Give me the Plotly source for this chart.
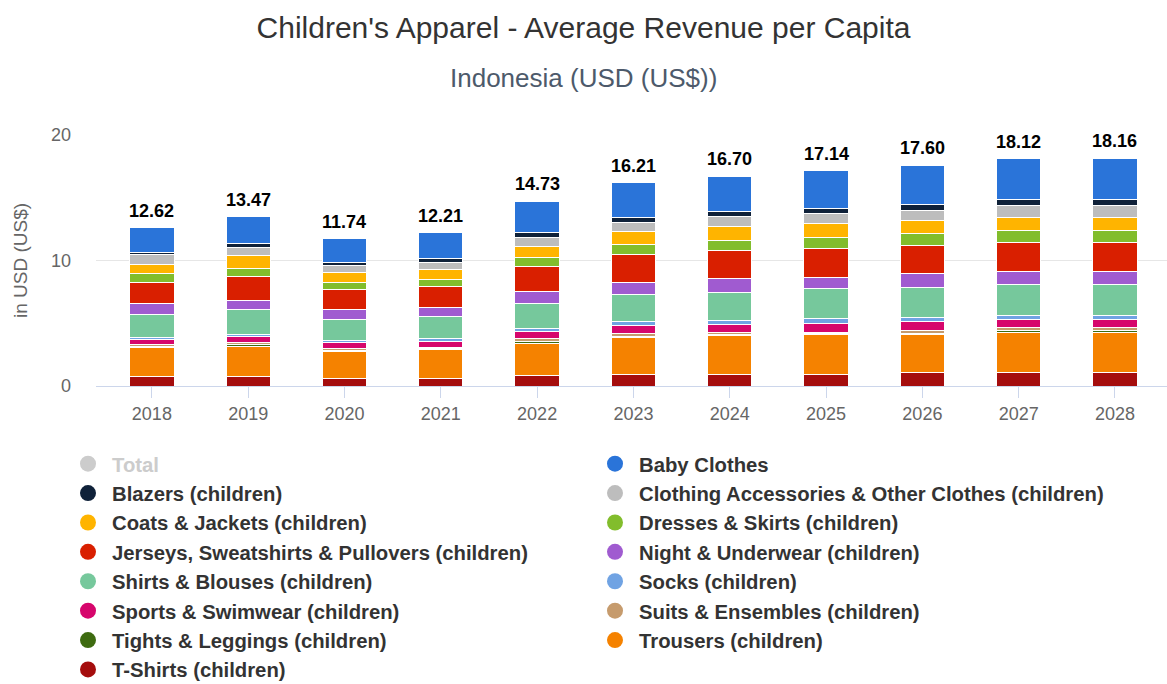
import plotly.graph_objects as go

# Years on the category axis
years = ["2018", "2019", "2020", "2021", "2022", "2023", "2024", "2025", "2026", "2027", "2028"]

# Average revenue per capita by segment, US$ (stacked bottom to top)
t_shirts = [0.75, 0.75, 0.63, 0.63, 0.80, 0.92, 0.90, 0.90, 1.04, 1.04, 1.05]
trousers = [2.30, 2.40, 2.15, 2.25, 2.62, 2.93, 3.09, 3.20, 3.08, 3.22, 3.23]
tights = [0.08, 0.12, 0.07, 0.08, 0.14, 0.10, 0.11, 0.07, 0.10, 0.15, 0.15]
suits = [0.14, 0.20, 0.10, 0.13, 0.22, 0.20, 0.19, 0.13, 0.17, 0.22, 0.22]
sports = [0.41, 0.45, 0.49, 0.48, 0.57, 0.65, 0.62, 0.70, 0.74, 0.66, 0.66]
socks = [0.22, 0.20, 0.16, 0.24, 0.22, 0.32, 0.32, 0.34, 0.31, 0.33, 0.33]
shirts = [1.83, 1.95, 1.70, 1.70, 2.02, 2.18, 2.24, 2.40, 2.42, 2.46, 2.46]
night = [0.81, 0.78, 0.81, 0.73, 0.94, 0.97, 1.07, 0.93, 1.08, 1.05, 1.05]
jerseys = [1.72, 1.90, 1.61, 1.70, 2.03, 2.20, 2.27, 2.29, 2.29, 2.32, 2.32]
dresses = [0.68, 0.62, 0.49, 0.54, 0.67, 0.84, 0.79, 0.89, 0.89, 0.91, 0.91]
coats = [0.75, 0.99, 0.81, 0.81, 0.89, 0.97, 1.08, 1.07, 1.07, 1.08, 1.08]
accessories = [0.75, 0.68, 0.62, 0.59, 0.73, 0.78, 0.84, 0.79, 0.79, 0.94, 0.94]
blazers = [0.19, 0.28, 0.24, 0.30, 0.35, 0.38, 0.37, 0.40, 0.48, 0.50, 0.50]
baby = [1.99, 2.15, 1.86, 2.03, 2.53, 2.77, 2.81, 3.03, 3.14, 3.24, 3.26]

# Stack totals shown above each bar
totals = [12.62, 13.47, 11.74, 12.21, 14.73, 16.21, 16.70, 17.14, 17.60, 18.12, 18.16]

FONT = "Liberation Sans, Arial, Helvetica, sans-serif"

# (legend name, values, colour) from the bottom of the stack upwards
stack = [
    ("T-Shirts (children)", t_shirts, "#a50d0d"),
    ("Trousers (children)", trousers, "#f58200"),
    ("Tights & Leggings (children)", tights, "#3e6b10"),
    ("Suits & Ensembles (children)", suits, "#c69b6d"),
    ("Sports & Swimwear (children)", sports, "#d6066c"),
    ("Socks (children)", socks, "#70a3e3"),
    ("Shirts & Blouses (children)", shirts, "#76c89c"),
    ("Night & Underwear (children)", night, "#a05bd0"),
    ("Jerseys, Sweatshirts & Pullovers (children)", jerseys, "#d91f00"),
    ("Dresses & Skirts (children)", dresses, "#82bd2c"),
    ("Coats & Jackets (children)", coats, "#ffb400"),
    ("Clothing Accessories & Other Clothes (children)", accessories, "#bdbdbd"),
    ("Blazers (children)", blazers, "#0f2139"),
    ("Baby Clothes", baby, "#2a74d9"),
]

PLOT_TOP, PLOT_BOTTOM, PLOT_LEFT = 135, 386.5, 96
PLOT_H = PLOT_BOTTOM - PLOT_TOP

fig = go.Figure()

for name, vals, col in stack:
    fig.add_trace(go.Bar(
        x=years, y=vals, name=name, legendgroup=name, showlegend=False,
        marker=dict(color=col, line=dict(color="#ffffff", width=1)),
        width=0.46,
    ))

# Legend entries with round markers (top of stack listed first)
fig.add_trace(go.Scatter(
    x=[None], y=[None], mode="markers",
    name="<span style='color:#cccccc'>Total</span>",
    marker=dict(symbol="circle", size=16, color="#cccccc"),
))
for name, vals, col in reversed(stack):
    fig.add_trace(go.Scatter(
        x=[None], y=[None], mode="markers", name=name, legendgroup=name,
        marker=dict(symbol="circle", size=16, color=col),
    ))

# Total labels above the bars
for i, tot in enumerate(totals):
    fig.add_annotation(
        xref="x", yref="y", x=i, y=tot, text=f"<b>{tot:.2f}</b>",
        showarrow=False, xanchor="center", yanchor="middle", yshift=17,
        font=dict(family=FONT, size=18, color="#000000"),
    )

# Subtitle
fig.add_annotation(
    xref="paper", yref="paper",
    x=(583.5 - PLOT_LEFT) / (1167 - PLOT_LEFT), y=(PLOT_BOTTOM - 78) / PLOT_H,
    xanchor="center", yanchor="middle", showarrow=False,
    text="Indonesia (USD (US$))",
    font=dict(family=FONT, size=26, color="#4d5a6b"),
)

fig.update_layout(
    width=1167, height=684,
    margin=dict(l=PLOT_LEFT, r=0, t=PLOT_TOP, b=684 - PLOT_BOTTOM),
    paper_bgcolor="#ffffff", plot_bgcolor="#ffffff",
    barmode="stack", bargap=0.5,
    title=dict(
        text="Children's Apparel - Average Revenue per Capita",
        x=0.5, xref="container", xanchor="center",
        y=1 - 27 / 684, yref="container", yanchor="middle",
        font=dict(family=FONT, size=30, color="#333333"),
    ),
    font=dict(family=FONT, size=18, color="#666666"),
    showlegend=True,
    legend=dict(
        orientation="h", xref="container", yref="container",
        x=64 / 1167, y=1 - 444 / 684, xanchor="left", yanchor="top",
        entrywidth=474, entrywidthmode="pixels", itemwidth=38,
        traceorder="normal", itemsizing="trace",
        font=dict(family=FONT, size=20.3, color="#333333", weight="bold"),
        bgcolor="rgba(0,0,0,0)", borderwidth=0,
        itemclick=False, itemdoubleclick=False,
    ),
    xaxis=dict(
        type="category", range=[-0.58, 10.54],
        showgrid=False, showline=True, linecolor="#ccd6eb", linewidth=1,
        ticks="outside", ticklen=11, tickcolor="#ccd6eb", tickwidth=1,
        tickfont=dict(family=FONT, size=18, color="#666666"),
        fixedrange=True,
    ),
    yaxis=dict(
        range=[0, 20], tickvals=[0, 10, 20], showgrid=True, gridcolor="#e6e6e6",
        zeroline=False, showline=False,
        tickfont=dict(family=FONT, size=18, color="#666666"),
        ticklabelstandoff=24,
        title=dict(text="in USD (US$)", standoff=18,
                   font=dict(family=FONT, size=19, color="#666666")),
        fixedrange=True,
    ),
)

fig.write_html("out.html", config={"displayModeBar": False})
